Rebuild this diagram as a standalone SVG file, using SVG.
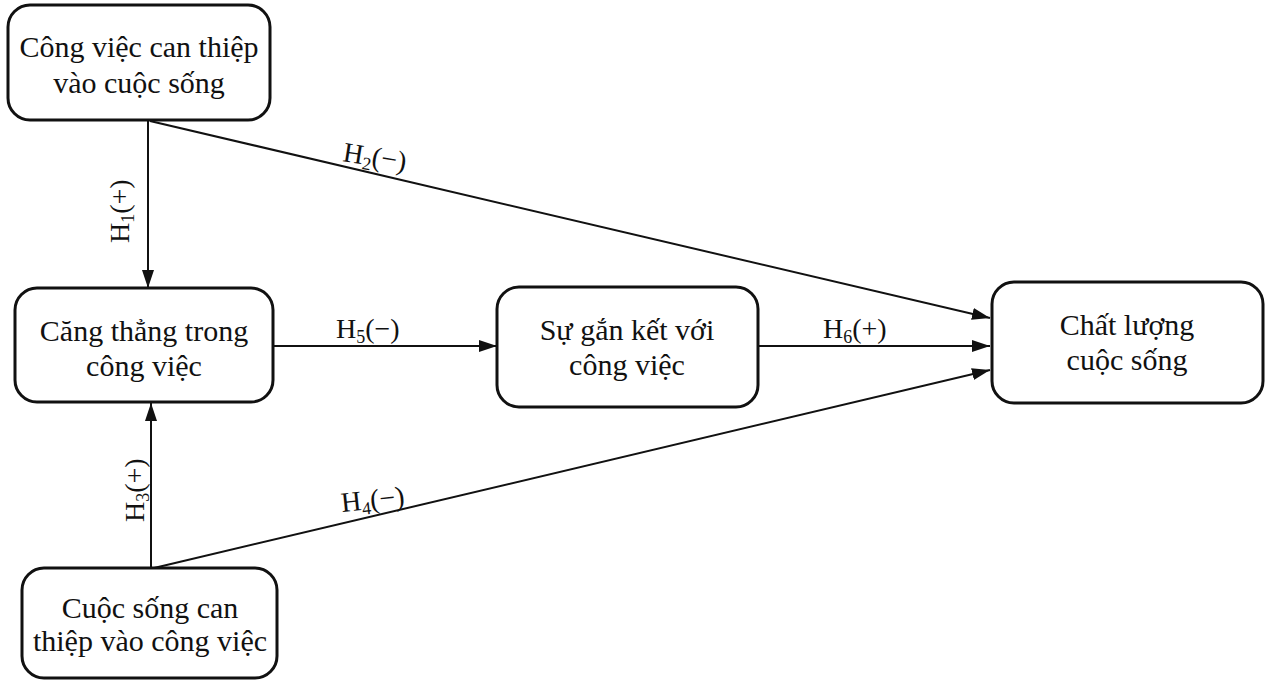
<svg xmlns="http://www.w3.org/2000/svg" width="1267" height="680" viewBox="0 0 1267 680">
  <style>
    .box { fill: #ffffff; stroke: #111111; stroke-width: 3; }
    .node-text { font-family: "Liberation Serif", "Times New Roman", serif; font-size: 30px; fill: #111111; text-anchor: middle; }
    .edge { stroke: #111111; stroke-width: 2; fill: none; marker-end: url(#arrow); }
    .lbl { font-family: "Liberation Serif", "Times New Roman", serif; font-size: 28px; fill: #111111; }
  </style>
  <defs>
    <marker id="arrow" viewBox="0 0 18 12" refX="18" refY="6" markerWidth="18" markerHeight="12" markerUnits="userSpaceOnUse" orient="auto">
      <path d="M0,0 L18,6 L0,12 Z" fill="#111111"/>
    </marker>
  </defs>
  <rect width="1267" height="680" fill="#ffffff"/>

  <g id="connectors">
    <!-- H1: work-to-life interference -> job stress -->
    <line class="edge" x1="148" y1="121" x2="148" y2="288"/>
    <!-- H2: work-to-life interference -> quality of life -->
    <line class="edge" x1="150" y1="121" x2="990" y2="318"/>
    <!-- H3: life-to-work interference -> job stress -->
    <line class="edge" x1="151" y1="568" x2="151" y2="403"/>
    <!-- H4: life-to-work interference -> quality of life -->
    <line class="edge" x1="154" y1="568" x2="990" y2="370"/>
    <!-- H5: job stress -> work engagement -->
    <line class="edge" x1="273" y1="346" x2="497" y2="346"/>
    <!-- H6: work engagement -> quality of life -->
    <line class="edge" x1="758" y1="346" x2="990" y2="346"/>

    <text class="lbl" transform="translate(129 243) rotate(-90)">H<tspan font-size="18" dy="5">1</tspan><tspan dy="-5">(+)</tspan></text>
    <text class="lbl" transform="translate(342 161) rotate(9)">H<tspan font-size="18" dy="5">2</tspan><tspan dy="-5">(−)</tspan></text>
    <text class="lbl" transform="translate(144 522) rotate(-90)">H<tspan font-size="18" dy="5">3</tspan><tspan dy="-5">(+)</tspan></text>
    <text class="lbl" transform="translate(342 512) rotate(-6)">H<tspan font-size="18" dy="5">4</tspan><tspan dy="-5">(−)</tspan></text>
    <text class="lbl" x="336" y="338">H<tspan font-size="18" dy="5">5</tspan><tspan dy="-5">(−)</tspan></text>
    <text class="lbl" x="823" y="338">H<tspan font-size="18" dy="5">6</tspan><tspan dy="-5">(+)</tspan></text>
  </g>

  <g id="node-work-life">
    <rect class="box" x="8" y="5" width="262" height="115" rx="22"/>
    <text class="node-text" x="139" y="57">Công việc can thiệp</text>
    <text class="node-text" x="139" y="93">vào cuộc sống</text>
  </g>

  <g id="node-stress">
    <rect class="box" x="15" y="288" width="258" height="114" rx="22"/>
    <text class="node-text" x="144" y="341">Căng thẳng trong</text>
    <text class="node-text" x="144" y="376">công việc</text>
  </g>

  <g id="node-life-work">
    <rect class="box" x="22" y="568" width="255" height="110" rx="22"/>
    <text class="node-text" x="150" y="618">Cuộc sống can</text>
    <text class="node-text" x="150" y="651">thiệp vào công việc</text>
  </g>

  <g id="node-engagement">
    <rect class="box" x="497" y="287" width="261" height="120" rx="22"/>
    <text class="node-text" x="627" y="340">Sự gắn kết với</text>
    <text class="node-text" x="627" y="375">công việc</text>
  </g>

  <g id="node-quality">
    <rect class="box" x="992" y="282" width="271" height="121" rx="22"/>
    <text class="node-text" x="1127" y="335">Chất lượng</text>
    <text class="node-text" x="1127" y="370">cuộc sống</text>
  </g>
</svg>
